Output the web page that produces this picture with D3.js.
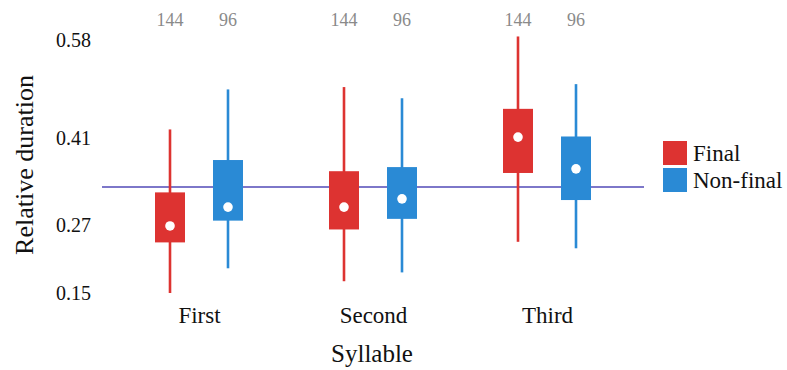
<!DOCTYPE html>
<html>
<head>
<meta charset="utf-8">
<script src="https://cdn.jsdelivr.net/npm/d3@7"></script>
<style>
  html, body { margin: 0; padding: 0; background: #ffffff; }
  svg { display: block; }
</style>
</head>
<body>
<svg id="chart" width="787" height="370"></svg>
<script>
// ---- data ----
const categories = ["First", "Second", "Third"];
const seriesNames = ["Final", "Non-final"];
const seriesColors = ["#dd3331", "#2a8ad5"];
const counts = [144, 96];
// per category, per series: [whiskerLow, q1, median, q3, whiskerHigh]
const finalStats = [
  [0.150, 0.236, 0.264, 0.321, 0.428],
  [0.170, 0.258, 0.296, 0.357, 0.500],
  [0.237, 0.354, 0.415, 0.463, 0.586]
];
const nonFinalStats = [
  [0.192, 0.273, 0.296, 0.376, 0.496],
  [0.185, 0.276, 0.310, 0.364, 0.481],
  [0.226, 0.308, 0.361, 0.416, 0.505]
];
const referenceValue = 0.33;
const yTickValues = [0.15, 0.266, 0.414, 0.58];
const xTitle = "Syllable";
const yTitle = "Relative duration";

const FONT = "'Liberation Serif', 'Times New Roman', serif";

// ---- layout ----
const svg = d3.select("#chart");
const y = d3.scaleLinear().domain([0.15, 0.58]).range([293, 40]);
const x = d3.scalePoint().domain(categories).range([199, 547]);
const xs = d3.scalePoint().domain(seriesNames).range([-29, 29]);
const color = d3.scaleOrdinal().domain(seriesNames).range(seriesColors);
const boxW = 30;

const rows = [];
categories.forEach((c, i) => {
  [finalStats, nonFinalStats].forEach((arr, j) => {
    const s = arr[i];
    rows.push({cat: c, series: seriesNames[j], n: counts[j],
      lo: s[0], q1: s[1], med: s[2], q3: s[3], hi: s[4]});
  });
});

// reference line
svg.append("line")
  .attr("x1", 102).attr("x2", 644)
  .attr("y1", y(referenceValue)).attr("y2", y(referenceValue))
  .attr("stroke", "#7d77c9").attr("stroke-width", 2);

const g = svg.append("g").selectAll("g").data(rows).join("g")
  .attr("transform", d => `translate(${x(d.cat) + xs(d.series)},0)`);

g.append("line")
  .attr("x1", 0).attr("x2", 0)
  .attr("y1", d => y(d.hi)).attr("y2", d => y(d.lo))
  .attr("stroke", d => color(d.series)).attr("stroke-width", 2.6);

g.append("rect")
  .attr("x", -boxW / 2).attr("width", boxW)
  .attr("y", d => y(d.q3)).attr("height", d => y(d.q1) - y(d.q3))
  .attr("fill", d => color(d.series));

g.append("circle")
  .attr("cx", 0).attr("cy", d => y(d.med)).attr("r", 4.8)
  .attr("fill", "#ffffff");

g.append("text")
  .attr("x", 0).attr("y", 26)
  .attr("text-anchor", "middle")
  .attr("font-size", 18).attr("fill", "#8a8a8a")
  .text(d => d.n);

// y axis
const yAxis = d3.axisLeft(y).tickValues(yTickValues).tickFormat(d3.format(".2f"))
  .tickSize(0).tickPadding(0);
const ya = svg.append("g").attr("transform", "translate(91,0)").call(yAxis);
ya.select(".domain").remove();
ya.selectAll("text").attr("font-size", 20).attr("fill", "#111");

// x axis labels
const xAxis = d3.axisBottom(x).tickSize(0).tickPadding(0);
const xa = svg.append("g").attr("transform", "translate(0,307)").call(xAxis);
xa.select(".domain").remove();
xa.selectAll("text").attr("font-size", 23).attr("fill", "#111");

// titles
svg.append("text")
  .attr("x", 372).attr("y", 362)
  .attr("text-anchor", "middle").attr("font-size", 25).attr("fill", "#111")
  .text(xTitle);

svg.append("text")
  .attr("transform", "translate(33,165) rotate(-90)")
  .attr("text-anchor", "middle").attr("font-size", 26).attr("fill", "#111")
  .text(yTitle);

// legend
const lg = svg.append("g").selectAll("g").data(seriesNames).join("g")
  .attr("transform", (d, i) => `translate(663,${141 + i * 27})`);
lg.append("rect").attr("width", 24).attr("height", 24).attr("fill", d => color(d));
lg.append("text").attr("x", 30).attr("y", 20)
  .attr("font-size", 23).attr("fill", "#111").text(d => d);

// force serif font on every text element
svg.selectAll("text").style("font-family", FONT);
</script>
</body>
</html>
